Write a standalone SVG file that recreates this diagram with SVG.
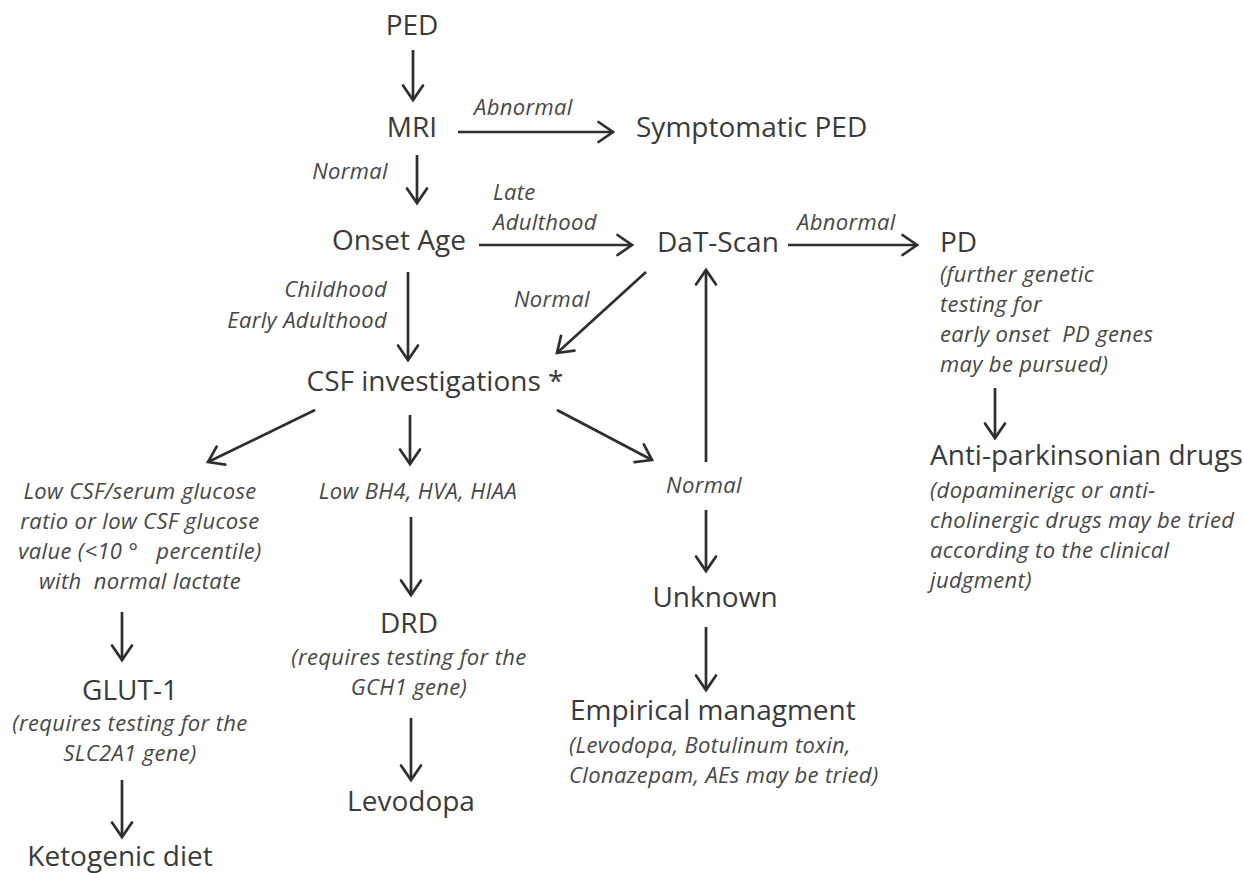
<svg xmlns="http://www.w3.org/2000/svg" width="1244" height="873" viewBox="0 0 1244 873">
<defs>
<marker id="ah" markerUnits="userSpaceOnUse" markerWidth="34" markerHeight="34" viewBox="-22 -17 34 34" refX="0" refY="0" orient="auto">
<path d="M-14.5,-10 L0,0 L-14.5,10" fill="none" stroke="#2e2e2e" stroke-width="2.7" stroke-linejoin="miter" stroke-linecap="round"/>
</marker>
<style>
.t{font-family:"Open Sans","Noto Sans","Liberation Sans",sans-serif;font-size:28px;fill:#3a3a3a}
.i{font-family:"Open Sans","Noto Sans","Liberation Sans",sans-serif;font-size:22px;letter-spacing:0.35px;font-style:italic;fill:#474747}
.m{text-anchor:middle}
.e{text-anchor:end}
.c line{stroke:#2e2e2e;stroke-width:2.7;marker-end:url(#ah)}
</style>
</defs>
<rect width="1244" height="873" fill="#fff"/>
<g id="connectors" class="c">
<line x1="413" y1="50" x2="413" y2="100"/>
<line x1="458" y1="132" x2="613" y2="132"/>
<line x1="417" y1="155" x2="417" y2="203"/>
<line x1="479" y1="245" x2="632" y2="245"/>
<line x1="788" y1="245" x2="917" y2="245"/>
<line x1="995" y1="388" x2="995" y2="438"/>
<line x1="408" y1="272" x2="408" y2="360"/>
<line x1="646" y1="272" x2="557" y2="353"/>
<line x1="706" y1="462" x2="706" y2="270"/>
<line x1="315" y1="410" x2="208" y2="462"/>
<line x1="410" y1="415" x2="410" y2="464"/>
<line x1="557" y1="410" x2="652" y2="460"/>
<line x1="122" y1="612" x2="122" y2="660"/>
<line x1="122" y1="780" x2="122" y2="837"/>
<line x1="411" y1="517" x2="411" y2="595"/>
<line x1="411" y1="718" x2="411" y2="780"/>
<line x1="706" y1="510" x2="706" y2="571"/>
<line x1="706" y1="627" x2="706" y2="690"/>
</g>
<g id="labels">
<text class="i" x="474" y="115">Abnormal</text>
<text class="i e" x="388" y="179">Normal</text>
<text class="i" x="493" y="200">Late</text>
<text class="i" x="493" y="230">Adulthood</text>
<text class="i" x="797" y="230">Abnormal</text>
<text class="i e" x="387" y="297">Childhood</text>
<text class="i e" x="387" y="328">Early Adulthood</text>
<text class="i" x="514" y="307">Normal</text>
</g>
<g id="n-ped"><text class="t m" x="412" y="35">PED</text></g>
<g id="n-mri"><text class="t m" x="412" y="137">MRI</text></g>
<g id="n-symptomatic"><text class="t" x="636" y="137">Symptomatic PED</text></g>
<g id="n-onset"><text class="t m" x="399" y="250">Onset Age</text></g>
<g id="n-dat"><text class="t" x="657" y="252">DaT-Scan</text></g>
<g id="n-pd">
<text class="t" x="940" y="252">PD</text>
<text class="i" x="940" y="282">(further genetic</text>
<text class="i" x="940" y="312">testing for</text>
<text class="i" x="940" y="342" style="white-space:pre">early onset  PD genes</text>
<text class="i" x="940" y="372">may be pursued)</text>
</g>
<g id="n-anti">
<text class="t" x="930" y="465">Anti-parkinsonian drugs</text>
<text class="i" x="930" y="498">(dopaminerigc or anti-</text>
<text class="i" x="930" y="528">cholinergic drugs may be tried</text>
<text class="i" x="930" y="558">according to the clinical</text>
<text class="i" x="930" y="588">judgment)</text>
</g>
<g id="n-csf"><text class="t m" x="435" y="391">CSF investigations *</text></g>
<g id="n-lowcsf">
<text class="i m" x="140" y="499">Low CSF/serum glucose</text>
<text class="i m" x="140" y="529">ratio or low CSF glucose</text>
<text class="i m" x="140" y="559" style="white-space:pre">value (&lt;10 °   percentile)</text>
<text class="i m" x="140" y="589" style="white-space:pre">with  normal lactate</text>
</g>
<g id="n-lowbh4"><text class="i m" x="418" y="499">Low BH4, HVA, HIAA</text></g>
<g id="n-normal"><text class="i m" x="704" y="493">Normal</text></g>
<g id="n-glut1">
<text class="t m" x="130" y="700">GLUT-1</text>
<text class="i m" x="130" y="731">(requires testing for the</text>
<text class="i m" x="130" y="761">SLC2A1 gene)</text>
</g>
<g id="n-keto"><text class="t m" x="120" y="866">Ketogenic diet</text></g>
<g id="n-drd">
<text class="t m" x="409" y="633">DRD</text>
<text class="i m" x="409" y="665">(requires testing for the</text>
<text class="i m" x="409" y="695">GCH1 gene)</text>
</g>
<g id="n-levodopa"><text class="t m" x="411" y="811">Levodopa</text></g>
<g id="n-unknown"><text class="t m" x="715" y="607">Unknown</text></g>
<g id="n-empirical">
<text class="t" x="570" y="720">Empirical managment</text>
<text class="i" x="569" y="753">(Levodopa, Botulinum toxin,</text>
<text class="i" x="569" y="783">Clonazepam, AEs may be tried)</text>
</g>
</svg>
